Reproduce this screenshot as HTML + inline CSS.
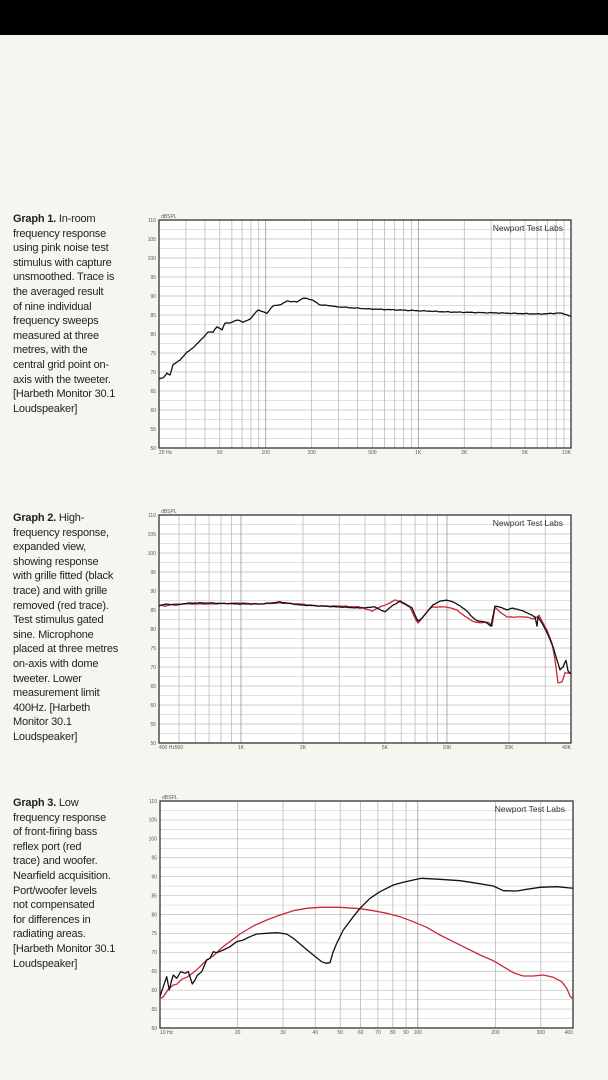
<!DOCTYPE html>
<html><head><meta charset="utf-8"><style>
html,body{margin:0;padding:0;background:#f6f6f0;width:608px;height:1080px;overflow:hidden;position:relative}
.bar{position:absolute;left:0;top:0;width:608px;height:35px;background:#000}
.cap{position:absolute;left:13px;font-family:"Liberation Sans",sans-serif;font-size:11px;line-height:14.6px;color:#222;white-space:pre;letter-spacing:-0.2px}
.cap b{font-weight:bold}
svg{position:absolute;left:0;top:0}
</style></head><body>
<div class="bar"></div>
<div class="cap" style="top:212px"><b>Graph 1.</b> In-room
frequency response
using pink noise test
stimulus with capture
unsmoothed. Trace is
the averaged result
of nine individual
frequency sweeps
measured at three
metres, with the
central grid point on-
axis with the tweeter.
[Harbeth Monitor 30.1
Loudspeaker]</div>
<div class="cap" style="top:511px"><b>Graph 2.</b> High-
frequency response,
expanded view,
showing response
with grille fitted (black
trace) and with grille
removed (red trace).
Test stimulus gated
sine. Microphone
placed at three metres
on-axis with dome
tweeter. Lower
measurement limit
400Hz. [Harbeth
Monitor 30.1
Loudspeaker]</div>
<div class="cap" style="top:796px"><b>Graph 3.</b> Low
frequency response
of front-firing bass
reflex port (red
trace) and woofer.
Nearfield acquisition.
Port/woofer levels
not compensated
for differences in
radiating areas.
[Harbeth Monitor 30.1
Loudspeaker]</div>
<svg id="s" width="608" height="1080" xmlns="http://www.w3.org/2000/svg"></svg>
<script>
var s=document.getElementById('s'),h='',cid=0;
function grid(L,T,R,B,f0,f1,labels){
  cid++;
  h+='<clipPath id="c'+cid+'"><rect x="'+L+'" y="'+T+'" width="'+(R-L)+'" height="'+(B-T)+'"/></clipPath>';
  h+='<rect x="'+L+'" y="'+T+'" width="'+(R-L)+'" height="'+(B-T)+'" fill="#fff"/>';
  var lx=function(f){return L+(Math.log10(f/f0))/Math.log10(f1/f0)*(R-L);};
  for(var i=1;i<24;i++){var y=T+i*(B-T)/24;h+='<line x1="'+L+'" x2="'+R+'" y1="'+y+'" y2="'+y+'" stroke="'+(i%2?'#d4d4d4':'#bdbdbd')+'" stroke-width="0.7"/>';}
  var d=Math.pow(10,Math.floor(Math.log10(f0)));
  for(;d<f1;d*=10){for(var k=1;k<10;k++){var f=d*k;if(f<=f0||f>=f1)continue;var x=lx(f);
    h+='<line x1="'+x+'" x2="'+x+'" y1="'+T+'" y2="'+B+'" stroke="'+(k==1?'#999':'#bbb')+'" stroke-width="0.8"/>';}}
  h+='<rect x="'+L+'" y="'+T+'" width="'+(R-L)+'" height="'+(B-T)+'" fill="none" stroke="#333" stroke-width="1.3"/>';
  for(var v=110,i=0;v>=50;v-=5,i+=2){var y=T+i*(B-T)/24;h+='<text x="'+(L-3)+'" y="'+(y+1.8)+'" font-size="5" text-anchor="end" fill="#555" font-family="Liberation Sans">'+v+'</text>';}
  h+='<text x="'+(L+2)+'" y="'+(T-2)+'" font-size="5" fill="#555" font-family="Liberation Sans">dBSPL</text>';
  labels.forEach(function(l){h+='<text x="'+lx(l[0])+'" y="'+(B+6)+'" font-size="5" text-anchor="'+(l[2]||'middle')+'" fill="#555" font-family="Liberation Sans">'+l[1]+'</text>';});
  h+='<text x="'+(R-8)+'" y="'+(T+11)+'" font-size="8.5" text-anchor="end" fill="#333" font-family="Liberation Sans">Newport Test Labs</text>';
}
function pl(pts,c){var p=pts.map(function(q){return q[0].toFixed(1)+','+q[1].toFixed(1);}).join(' ');
  h+='<polyline clip-path="url(#c'+cid+')" points="'+p+'" fill="none" stroke="'+c+'" stroke-width="1.3" stroke-linejoin="round"/>';}
function interp(pts,step,jit){var o=[];for(var i=0;i<pts.length-1;i++){var a=pts[i],b=pts[i+1];var n=Math.max(1,Math.round((b[0]-a[0])/step));
  for(var j=0;j<n;j++){var t=j/n,x=a[0]+(b[0]-a[0])*t;o.push([x,a[1]+(b[1]-a[1])*t+(jit?(Math.sin(x*2.1)+Math.sin(x*3.7))*0.5*jit:0)]);}}o.push(pts[pts.length-1]);return o;}
// Graph1
grid(159,220,571,448,20,10000,[[20,'20 Hz','start'],[50,'50'],[100,'100'],[200,'200'],[500,'500'],[1000,'1K'],[2000,'2K'],[5000,'5K'],[10000,'10K','end']]);
var g1=[[159,379],[163,378],[167,373],[170,375],[173,365],[180,360],[187,352],[193,348],[200,341],[208,332],[213,332],[217,327],[222,330],[225,323],[230,323],[237,320],[243,322],[250,319],[258,310],[263,312],[267,313],[273,306],[280,305],[287,301],[297,302],[303,298],[313,300],[320,305],[333,306],[340,307],[370,309],[400,310],[450,312],[500,313],[540,314],[560,313],[571,316]];
pl(interp(g1,2,0.4),'#111');
// Graph2
grid(159,515,571,743,400,40000,[[400,'400 Hz','start'],[500,'500'],[1000,'1K'],[2000,'2K'],[5000,'5K'],[10000,'10K'],[20000,'20K'],[40000,'40K','end']]);
var g2b=[[159,606],[165,604],[175,605],[190,603],[210,603],[240,604],[260,604],[280,602],[300,605],[320,606],[340,607],[360,608],[375,607],[385,612],[392,606],[400,601],[407,605],[412,608],[415,615],[418,621],[422,618],[427,612],[433,605],[440,601],[447,600],[453,602],[460,606],[467,611],[472,617],[478,621],[485,622],[491,626],[495,606],[500,607],[507,610],[513,608],[523,611],[532,615],[535,617],[537,626],[538,617],[543,625],[548,635],[553,647],[557,660],[560,670],[563,667],[566,660],[568,671],[571,674]];
var g2r=[[159,605],[165,606],[175,604],[190,604],[210,604],[240,603],[260,604],[280,603],[300,604],[320,606],[340,606],[360,607],[372,611],[380,607],[390,603],[395,600],[400,602],[410,607],[415,618],[418,623],[423,617],[430,608],[433,607],[447,607],[457,610],[463,615],[472,621],[480,623],[488,622],[492,626],[495,607],[500,612],[507,617],[517,617],[527,617],[533,619],[537,617],[539,615],[542,621],[547,630],[552,643],[555,660],[558,683],[562,682],[565,673],[568,673],[571,673]];
pl(interp(g2r,2,0.3),'#c8283a');pl(interp(g2b,2,0.3),'#111');
// Graph3
grid(160,801,573,1028,10,400,[[10,'10 Hz','start'],[20,'20'],[30,'30'],[40,'40'],[50,'50'],[60,'60'],[70,'70'],[80,'80'],[90,'90'],[100,'100'],[200,'200'],[300,'300'],[400,'400','end']]);
function z(a){return a.map(function(q){return [140+q[0]/3,790+q[1]/3];});}
var g3b=z([[58,625],[70,590],[80,560],[88,600],[95,570],[100,555],[110,565],[122,545],[135,550],[145,545],[150,560],[157,582],[165,570],[172,556],[185,545],[200,510],[210,505],[220,485],[230,488],[250,480],[270,470],[290,455],[310,450],[330,440],[350,432],[380,430],[410,428],[440,432],[460,445],[490,470],[520,495],[545,515],[558,520],[570,518],[578,490],[590,460],[610,420],[640,380],[660,355],[690,325],[720,305],[760,285],[790,277],[820,270],[830,268],[845,265],[900,268],[960,272],[1000,278],[1060,288],[1090,302],[1130,303],[1160,298],[1200,292],[1250,290],[1300,295]]);
var g3r=z([[58,628],[70,620],[85,598],[100,585],[110,583],[125,568],[140,562],[160,548],[180,530],[200,510],[220,498],[240,478],[260,462],[300,432],[340,408],[380,390],[420,375],[460,362],[500,355],[540,352],[600,352],[660,356],[700,362],[740,370],[780,380],[820,395],[860,412],[900,435],[940,455],[980,475],[1020,495],[1060,512],[1090,530],[1120,548],[1150,558],[1180,558],[1210,555],[1240,562],[1265,575],[1280,595],[1290,618],[1300,628]]);
pl(g3r,'#c8283a');pl(g3b,'#111');
s.innerHTML=h;
</script>
</body></html>
